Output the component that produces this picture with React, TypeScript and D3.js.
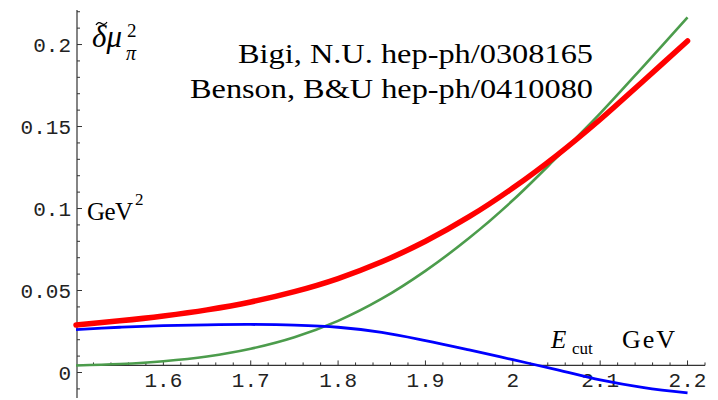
import React from "react";
import * as d3 from "d3";

const xs = [1.5, 1.55, 1.6, 1.65, 1.7, 1.75, 1.8, 1.85, 1.9, 1.95, 2.0, 2.05, 2.1, 2.15, 2.2];
const redVals = [0.029, 0.0315, 0.0345, 0.0382, 0.043, 0.0493, 0.0573, 0.0675, 0.08, 0.095, 0.1125, 0.1323, 0.1543, 0.1781, 0.2022];
const blueVals = [0.0262, 0.0276, 0.0286, 0.0291, 0.0293, 0.0289, 0.0276, 0.0245, 0.0195, 0.0138, 0.0078, 0.0018, -0.0045, -0.0092, -0.0124];
const greenVals = [0.0043, 0.0052, 0.0069, 0.0098, 0.0145, 0.0215, 0.0315, 0.045, 0.062, 0.082, 0.105, 0.131, 0.158, 0.187, 0.2165];

const xTicks = [1.6, 1.7, 1.8, 1.9, 2.0, 2.1, 2.2];
const xTickLabels = ["1.6", "1.7", "1.8", "1.9", "2", "2.1", "2.2"];
const yTicks = [0, 0.05, 0.1, 0.15, 0.2];
const yTickLabels = ["0", "0.05", "0.1", "0.15", "0.2"];

const W = 718, H = 400;

export default function App() {
  const x = d3.scaleLinear().domain([1.5, 2.22]).range([76, 705]);
  const y = d3.scaleLinear().domain([-0.015, 0.221]).range([397.1, 10.1]);
  const axisY = y(0.0043);
  const axisX = x(1.5) + 1;

  const line = (vals: number[]) =>
    d3.line<number>()
      .x((_, i) => x(xs[i]))
      .y((v) => y(v))
      .curve(d3.curveCatmullRom.alpha(0.5))(vals) || "";

  const xMinor = d3.range(1.52, 2.221, 0.02).filter((v) => Math.abs(v * 10 - Math.round(v * 10)) > 0.01);
  const yMinor = d3.range(-0.01, 0.2205, 0.01).filter((v) => Math.abs(v * 20 - Math.round(v * 20)) > 0.01);

  const mono = "'Liberation Mono', 'DejaVu Sans Mono', monospace";
  const serif = "'Liberation Serif', 'DejaVu Serif', serif";
  const axisColor = "#333";

  return (
    <svg width={W} height={H} style={{ position: "absolute", left: 0, top: 0, background: "#fff" }}>
      {/* axes */}
      <line x1={axisX} x2={axisX} y1={10} y2={398} stroke={axisColor} strokeWidth={1.2} />
      <line x1={axisX} x2={705} y1={axisY} y2={axisY} stroke={axisColor} strokeWidth={1.2} />
      {xTicks.map((t) => (
        <line key={"xt" + t} x1={x(t)} x2={x(t)} y1={axisY} y2={axisY - 5} stroke={axisColor} strokeWidth={1} />
      ))}
      {xMinor.map((t) => (
        <line key={"xm" + t} x1={x(t)} x2={x(t)} y1={axisY} y2={axisY - 3} stroke={axisColor} strokeWidth={1} />
      ))}
      {yTicks.map((t) => (
        <line key={"yt" + t} x1={axisX} x2={axisX + 5} y1={y(t)} y2={y(t)} stroke={axisColor} strokeWidth={1} />
      ))}
      {yMinor.map((t) => (
        <line key={"ym" + t} x1={axisX} x2={axisX + 3} y1={y(t)} y2={y(t)} stroke={axisColor} strokeWidth={1} />
      ))}
      {xTicks.map((t, i) => (
        <text key={"xl" + t} x={x(t)} y={387} textAnchor="middle" fontFamily={mono} fontSize={21} fill="#222">
          {xTickLabels[i]}
        </text>
      ))}
      {yTicks.map((t, i) => (
        <text key={"yl" + t} x={71} y={y(t) + 7} textAnchor="end" fontFamily={mono} fontSize={21} fill="#222">
          {yTickLabels[i]}
        </text>
      ))}

      {/* curves */}
      <path d={line(greenVals)} fill="none" stroke="#4c9c4c" strokeWidth={2.6} />
      <path d={line(blueVals)} fill="none" stroke="#0000ff" strokeWidth={2.8} />
      <path d={line(redVals)} fill="none" stroke="#ff0000" strokeWidth={5.5} strokeLinecap="round" />

      {/* labels */}
      <path d="M96,25 q2.5,-4 5.5,-1.5 q3,2.5 5.5,-1.5" fill="none" stroke="#000" strokeWidth={1.3} />
      <text x={92} y={47} fontFamily={serif} fontStyle="italic" fontSize={31}>δμ</text>
      <text x={127} y={37} fontFamily={serif} fontSize={19}>2</text>
      <text x={126} y={60} fontFamily={serif} fontStyle="italic" fontSize={20}>π</text>

      <text x={593} y={63} textAnchor="end" fontFamily={serif} fontSize={28} textLength={355} lengthAdjust="spacingAndGlyphs">
        Bigi, N.U. hep-ph/0308165
      </text>
      <text x={593} y={98} textAnchor="end" fontFamily={serif} fontSize={28} textLength={403} lengthAdjust="spacingAndGlyphs">
        Benson, B&amp;U hep-ph/0410080
      </text>

      <text x={87} y={220} fontFamily={serif} fontSize={25} textLength={46} lengthAdjust="spacing">GeV</text>
      <text x={135} y={205} fontFamily={serif} fontSize={17}>2</text>

      <text x={551} y={348} fontFamily={serif} fontStyle="italic" fontSize={25}>E</text>
      <text x={572} y={354} fontFamily={serif} fontSize={17}>cut</text>
      <text x={622} y={348} fontFamily={serif} fontSize={26} textLength={53} lengthAdjust="spacing">GeV</text>
    </svg>
  );
}
